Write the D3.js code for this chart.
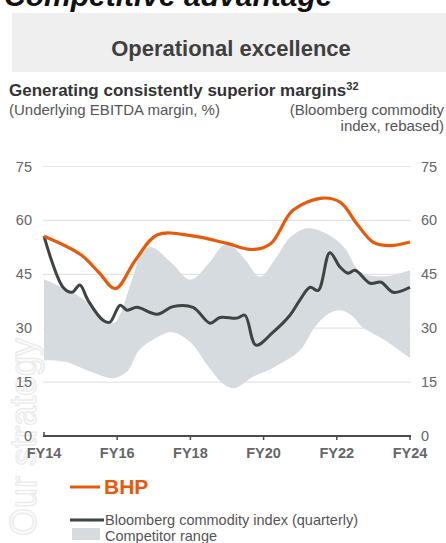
<!DOCTYPE html>
<html>
<head>
<meta charset="utf-8">
<script src="https://cdn.jsdelivr.net/npm/d3@7"></script>
<style>
  body { margin: 0; background: #fff; }
  svg { display: block; font-family: "Liberation Sans", Arial, sans-serif; }
</style>
</head>
<body>
<svg id="chart" width="446" height="543"></svg>
<script>
// x tick labels (financial years)
const fyTicks = [14, 16, 18, 20, 22, 24];
const yTicks = [0, 15, 30, 45, 60, 75];

// BHP underlying EBITDA margin, %
const bhpYears = [14.0, 15.0, 15.5, 15.95, 16.5, 17.1, 18.1, 19.0, 19.7, 20.2, 20.8, 21.6, 22.1, 22.55, 23.0, 23.45, 24.0];
const bhpValues = [55.6, 50.5, 45.5, 41, 49, 56, 55.6, 53.6, 51.9, 53.6, 62.8, 66.2, 65, 59, 53.9, 53, 54];

// Bloomberg commodity index (quarterly), rebased
const bbgYears = [14.0, 14.52, 14.77, 14.98, 15.2, 15.61, 15.8, 16.08, 16.27, 16.54, 17.09, 17.52, 18.07, 18.54, 18.81, 19.27, 19.49, 19.79, 20.26, 20.72, 20.99, 21.27, 21.49, 21.81, 22.09, 22.31, 22.5, 22.91, 23.21, 23.54, 24.0];
const bbgValues = [55.6, 41.4, 40, 42, 37.8, 32.2, 31.7, 36.4, 35, 35.8, 33.9, 36, 35.8, 31.4, 33, 32.8, 33.6, 25.3, 28.9, 33.6, 37.8, 41.4, 40.5, 51, 47, 45.3, 46.1, 42.5, 42.8, 40, 41.4];

// Competitor range, upper and lower bounds
const compHighYears = [14.0, 15.0, 15.5, 15.9, 16.4, 16.7, 16.95, 17.5, 18.0, 18.5, 18.9, 19.1, 19.5, 19.9, 20.3, 20.75, 21.2, 21.7, 22.2, 22.6, 23.0, 23.5, 24.0];
const compHighValues = [43.6, 38.6, 34, 31.4, 43.3, 51.7, 52.5, 48, 43.5, 48, 53, 53, 49, 44.3, 49, 55.5, 57.8, 56.4, 52.5, 46, 44.5, 44.7, 46.1];
const compLowYears = [14.0, 14.6, 15.3, 15.9, 16.3, 16.6, 17.1, 17.5, 18.0, 18.5, 18.9, 19.2, 19.7, 20.3, 21.0, 21.4, 21.8, 22.1, 22.4, 22.7, 23.3, 24.0];
const compLowValues = [21.1, 20.6, 17.8, 16.1, 18.3, 23.9, 27.5, 28.9, 26.1, 19.2, 14.5, 13.3, 16.4, 19.2, 23.9, 30.3, 34.2, 35, 33.6, 30.3, 26.7, 21.7];

const svg = d3.select("#chart");
const orange = "#e8590c";
const dark = "#3d4441";
const band = "#d5dbdf";

// faint decorative watermark on the left edge
svg.append("text")
  .attr("transform", "translate(36,536) rotate(-90)")
  .attr("font-size", 36)
  .attr("fill", "none")
  .attr("stroke", "#ececec")
  .attr("stroke-width", 1.5)
  .text("Our strategy");

// cut-off page heading
svg.append("text")
  .attr("x", 4).attr("y", 6)
  .attr("font-size", 30).attr("font-weight", "bold").attr("font-style", "italic")
  .attr("fill", "#111")
  .text("Competitive advantage");

// section band
svg.append("rect")
  .attr("x", 12).attr("y", 13).attr("width", 434).attr("height", 59)
  .attr("fill", "#efefef");
svg.append("text")
  .attr("x", 231).attr("y", 56)
  .attr("text-anchor", "middle")
  .attr("font-size", 22).attr("font-weight", "bold")
  .attr("fill", "#3f3f3f")
  .text("Operational excellence");

// titles
const title = svg.append("text")
  .attr("x", 9).attr("y", 96)
  .attr("font-size", 17).attr("font-weight", "bold")
  .attr("fill", "#333");
title.append("tspan").text("Generating consistently superior margins");
title.append("tspan").attr("font-size", 11).attr("dy", -6).text("32");

svg.append("text")
  .attr("x", 9).attr("y", 115)
  .attr("font-size", 15).attr("fill", "#555")
  .text("(Underlying EBITDA margin, %)");
svg.append("text")
  .attr("x", 444).attr("y", 115)
  .attr("text-anchor", "end")
  .attr("font-size", 15).attr("fill", "#555")
  .text("(Bloomberg commodity");
svg.append("text")
  .attr("x", 444).attr("y", 131)
  .attr("text-anchor", "end")
  .attr("font-size", 15).attr("fill", "#555")
  .text("index, rebased)");

// scales
const x = d3.scaleLinear().domain([14, 24]).range([44, 410]);
const y = d3.scaleLinear().domain([0, 75]).range([436, 166.5]);

// gridlines
svg.append("g")
  .selectAll("line")
  .data(yTicks.filter(d => d > 0))
  .join("line")
  .attr("x1", 43).attr("x2", 411)
  .attr("y1", d => y(d)).attr("y2", d => y(d))
  .attr("stroke", "#e4e4e4").attr("stroke-width", 1.2);

// competitor band
const line = d3.line().curve(d3.curveCatmullRom.alpha(0.5));
const upper = compHighYears.map((d, i) => [x(d), y(compHighValues[i])]);
const lower = compLowYears.map((d, i) => [x(d), y(compLowValues[i])]).reverse();
svg.append("path")
  .attr("d", line(upper) + "L" + line(lower).slice(1) + "Z")
  .attr("fill", band);

// axis labels, left and right
svg.append("g")
  .selectAll("text")
  .data(yTicks)
  .join("text")
  .attr("x", 32).attr("y", d => y(d) + 5)
  .attr("text-anchor", "end")
  .attr("font-size", 14.5).attr("fill", "#666")
  .text(d => d);
svg.append("g")
  .selectAll("text")
  .data(yTicks)
  .join("text")
  .attr("x", 421).attr("y", d => y(d) + 5)
  .attr("font-size", 14.5).attr("fill", "#666")
  .text(d => d);

// Bloomberg line
svg.append("path")
  .datum(bbgYears.map((d, i) => [x(d), y(bbgValues[i])]))
  .attr("d", line)
  .attr("fill", "none")
  .attr("stroke", dark).attr("stroke-width", 3)
  .attr("stroke-linejoin", "round");

// BHP line
svg.append("path")
  .datum(bhpYears.map((d, i) => [x(d), y(bhpValues[i])]))
  .attr("d", line)
  .attr("fill", "none")
  .attr("stroke", orange).attr("stroke-width", 3.2);

// x axis
const xAxis = svg.append("g").attr("transform", "translate(0,436)");
xAxis.append("line")
  .attr("x1", 43).attr("x2", 411)
  .attr("stroke", "#4a4a4a").attr("stroke-width", 2);
xAxis.selectAll(".tick")
  .data(fyTicks)
  .join("line")
  .attr("x1", d => x(d)).attr("x2", d => x(d))
  .attr("y1", d => d === 14 ? -4 : 0).attr("y2", d => d === 14 ? 0 : 4)
  .attr("stroke", "#4a4a4a").attr("stroke-width", 1.5);
xAxis.selectAll("text")
  .data(fyTicks)
  .join("text")
  .attr("x", d => x(d)).attr("y", 22)
  .attr("text-anchor", "middle")
  .attr("font-size", 14.5).attr("font-weight", "bold").attr("fill", "#666")
  .text(d => "FY" + d);

// legend
const lg = svg.append("g");
lg.append("line").attr("x1", 70).attr("x2", 100).attr("y1", 487).attr("y2", 487)
  .attr("stroke", orange).attr("stroke-width", 3);
lg.append("text").attr("x", 104).attr("y", 494)
  .attr("font-size", 21).attr("font-weight", "bold").attr("fill", orange)
  .text("BHP");
lg.append("line").attr("x1", 70).attr("x2", 104).attr("y1", 520).attr("y2", 520)
  .attr("stroke", dark).attr("stroke-width", 3);
lg.append("text").attr("x", 105).attr("y", 525)
  .attr("font-size", 14.5).attr("fill", "#555")
  .text("Bloomberg commodity index (quarterly)");
lg.append("rect").attr("x", 72).attr("y", 528).attr("width", 28).attr("height", 12)
  .attr("fill", band);
lg.append("text").attr("x", 105).attr("y", 541)
  .attr("font-size", 14.5).attr("fill", "#555")
  .text("Competitor range");
</script>
</body>
</html>
